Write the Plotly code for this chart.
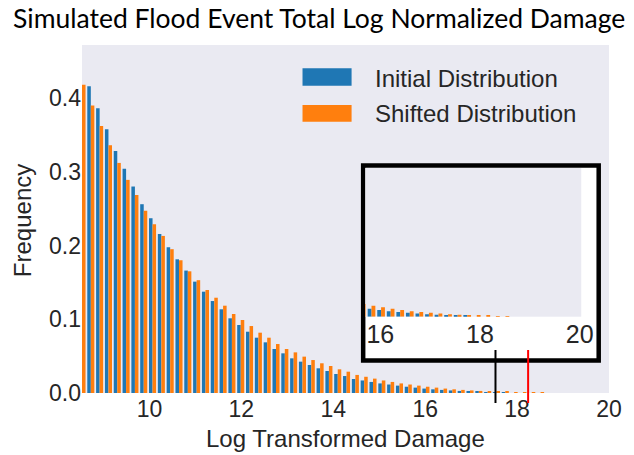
import numpy as np
import plotly.graph_objects as go

# ---------------- data ----------------
bin_start = 8.436
bin_width = 0.1919
initial = [0.44, 0.416, 0.386, 0.3575, 0.328, 0.304, 0.280, 0.256, 0.237, 0.2156,
           0.1975, 0.1813, 0.166, 0.151, 0.1374, 0.1247, 0.1135, 0.1013, 0.0922, 0.0831,
           0.075, 0.0687, 0.0597, 0.0538, 0.047, 0.0425, 0.038, 0.0335, 0.0298, 0.0258,
           0.023, 0.019, 0.017, 0.015, 0.013, 0.0115, 0.010, 0.0085, 0.0073, 0.006,
           0.005, 0.0042, 0.0035, 0.0028, 0.0022, 0.0017, 0.0013, 0.001, 0.0007, 0,
           0, 0, 0]
shifted = [0.418, 0.390, 0.362, 0.336, 0.312, 0.289, 0.2685, 0.247, 0.229, 0.213,
           0.195, 0.180, 0.165, 0.153, 0.1397, 0.1292, 0.1184, 0.1071, 0.099, 0.0908,
           0.0818, 0.075, 0.0664, 0.0597, 0.0551, 0.0493, 0.0447, 0.0403, 0.0366, 0.0321,
           0.0289, 0.0245, 0.022, 0.0195, 0.017, 0.015, 0.013, 0.0115, 0.010, 0.0085,
           0.0073, 0.006, 0.005, 0.0042, 0.0035, 0.0028, 0.0022, 0.0018, 0.0014, 0.001,
           0.0008, 0.0006, 0.0005]
line_black_x = 17.53
line_red_x = 18.24
x_ticks = [10, 12, 14, 16, 18, 20]
y_ticks = [0.0, 0.1, 0.2, 0.3, 0.4]
inset_ticks = [16, 18, 20]
series_names = ["Initial Distribution", "Shifted Distribution"]
colors = ["#1f77b4", "#ff7f0e"]

centers = bin_start + bin_width * (np.arange(len(initial)) + 0.5)

# ---------------- layout geometry (pixels) ----------------
W, H = 634, 455
L, R, T, B = 82, 619, 45, 393   # main plot area


def px(x):
    return (x - L) / (R - L)


def py(y):
    return (B - y) / (B - T)


TXT = "#262626"
FONT = "Liberation Sans, Arial, sans-serif"

fig = go.Figure()
for vals, name, col in zip([initial, shifted], series_names, colors):
    fig.add_trace(go.Bar(x=centers, y=vals, name=name, marker=dict(color=col, line=dict(width=0)),
                         showlegend=False, xaxis="x", yaxis="y"))
for vals, name, col in zip([initial, shifted], series_names, colors):
    fig.add_trace(go.Bar(x=centers, y=vals, name=name, marker=dict(color=col, line=dict(width=0)),
                         showlegend=False, xaxis="x2", yaxis="y2"))

shapes = []
annotations = []

# inset white box with thick black border
shapes.append(dict(type="rect", xref="paper", yref="paper",
                   x0=px(368.5), x1=px(608.5), y0=py(360.5), y1=py(165.5),
                   fillcolor="white", line=dict(color="black", width=4.5), layer="below"))
# vertical marker lines
for xv, col in [(line_black_x, "black"), (line_red_x, "red")]:
    shapes.append(dict(type="line", xref="x", yref="paper", x0=xv, x1=xv,
                       y0=py(403), y1=py(350), line=dict(color=col, width=2), layer="above"))

# manual legend
for i, (name, col) in enumerate(zip(series_names, colors)):
    y0, y1 = [(68.3, 85.7), (105, 121.7)][i]
    shapes.append(dict(type="rect", xref="paper", yref="paper",
                       x0=px(306.7), x1=px(356.7), y0=py(y1), y1=py(y0),
                       fillcolor=col, line=dict(width=0), layer="above"))
    annotations.append(dict(text=name, xref="paper", yref="paper", x=px(379), y=py([78.3, 113.8][i]),
                            xanchor="left", yanchor="middle", showarrow=False,
                            font=dict(family=FONT, size=24, color=TXT)))

# axis titles
annotations.append(dict(text="Log Transformed Damage", xref="paper", yref="paper",
                        x=px(350.5), y=py(438), xanchor="center", yanchor="middle",
                        showarrow=False, font=dict(family=FONT, size=24, color=TXT)))
annotations.append(dict(text="Frequency", xref="paper", yref="paper",
                        x=px(21), y=py(221), xanchor="center", yanchor="middle", textangle=-90,
                        showarrow=False, font=dict(family=FONT, size=24, color=TXT)))

fig.update_layout(
    width=W, height=H,
    margin=dict(l=L, r=W - R, t=T, b=H - B, pad=0),
    paper_bgcolor="white", plot_bgcolor="#EAEAF2",
    barmode="group", bargap=0.2, bargroupgap=0,
    title=dict(text="Simulated Flood Event Total Log Normalized Damage",
               font=dict(family="Lato, sans-serif", size=26.5, color="black"),
               x=319.2 / W, xanchor="center", y=1 - 19 / H, yanchor="middle", yref="container"),
    xaxis=dict(range=[8.532, 20.0], tickvals=x_ticks, showgrid=False, zeroline=False,
               showline=False, ticks="", ticklabelstandoff=0,
               tickfont=dict(family=FONT, size=23, color=TXT)),
    yaxis=dict(range=[0, 0.4719], tickvals=y_ticks, tickformat=".1f", showgrid=False,
               zeroline=False, showline=False, ticks="",
               tickfont=dict(family=FONT, size=23, color=TXT)),
    xaxis2=dict(domain=[px(370.7), px(590.7)], anchor="y2", range=[15.70, 20.03],
                tickvals=inset_ticks, showgrid=False, zeroline=False, showline=False,
                ticks="", ticklabelstandoff=0,
                tickfont=dict(family=FONT, size=25, color=TXT)),
    yaxis2=dict(domain=[py(316.7), py(168)], anchor="x2", range=[0, 0.135],
                showticklabels=False, showgrid=False, zeroline=False, showline=False),
    shapes=shapes, annotations=annotations,
)

fig.write_html("out.html", config={"displayModeBar": False},
               post_script="document.body.style.margin='0px';")
